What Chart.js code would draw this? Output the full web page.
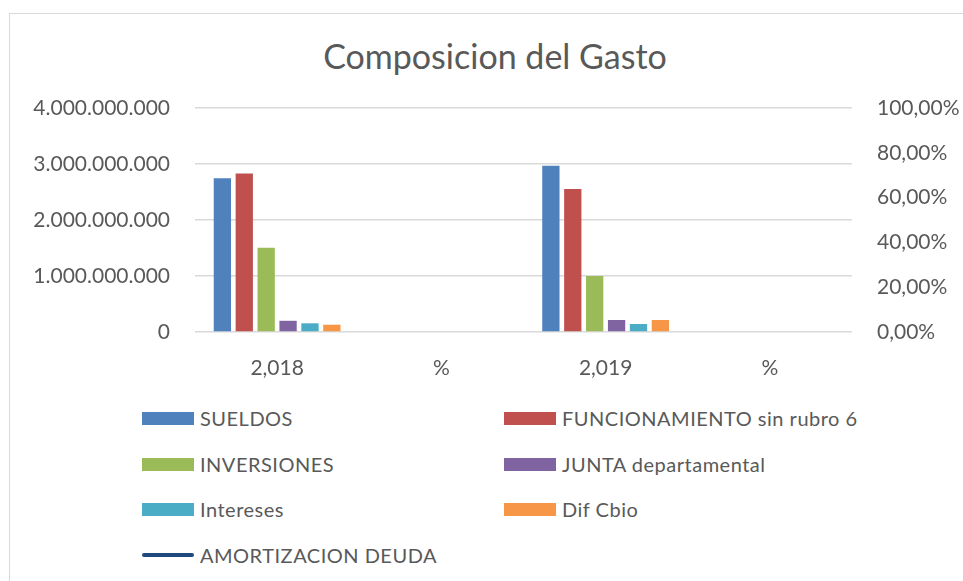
<!DOCTYPE html>
<html>
<head>
<meta charset="utf-8">
<script src="https://cdn.jsdelivr.net/npm/chart.js@4.4.1/dist/chart.umd.min.js"></script>
<style>
    html, body { margin: 0; padding: 0; background: #fff; }
    #wrap { position: relative; width: 963px; height: 581px; overflow: hidden; font-family: Lato, sans-serif; }
    #frame { position: absolute; left: 9px; top: 13px; width: 1000px; height: 700px; border-top: 1px solid #d9d9d9; border-left: 1px solid #d9d9d9; }
    #title { position: absolute; left: 295px; width: 400px; top: 36px; text-align: center; color: #595959; font-size: 34px; line-height: 40px; white-space: nowrap; }
    #box { position: absolute; left: 0; top: 0; width: 963px; height: 400px; }
    .item { position: absolute; color: #595959; font-size: 20px; letter-spacing: 0.5px; line-height: 20px; white-space: nowrap; }
    .sw { position: absolute; width: 52px; height: 13px; }
    .sw.line { height: 4px; border-radius: 2px; }
</style>
</head>
<body>
<div id="wrap">
    <div id="frame"></div>
    <div id="title">Composicion del Gasto</div>
    <div id="box"><canvas id="gasto"></canvas></div>
    <div id="legend"></div>
</div>
<script>
const categories = ['2,018', '%', '2,019', '%'];
const sueldos = [2745000000, null, 2970000000, null];
const funcionamiento = [2830000000, null, 2555000000, null];
const inversiones = [1505000000, null, 1000000000, null];
const junta = [200000000, null, 214000000, null];
const intereses = [155000000, null, 143000000, null];
const difCbio = [130000000, null, 214000000, null];
const amortizacion = [null, null, null, null];

const leftTicks = [0, 1000000000, 2000000000, 3000000000, 4000000000];
const rightTicks = [0, 0.2, 0.4, 0.6, 0.8, 1];

const textColor = '#595959';
const gridColor = '#d9d9d9';

function formatMiles(v) {
    return String(Math.round(v)).replace(/\B(?=(\d{3})+(?!\d))/g, '.');
}
function formatPct(v) {
    return (v * 100).toFixed(2).replace('.', ',') + '%';
}

const series = [
    { label: 'SUELDOS', data: sueldos, color: '#4f81bd' },
    { label: 'FUNCIONAMIENTO sin rubro 6', data: funcionamiento, color: '#c0504d' },
    { label: 'INVERSIONES', data: inversiones, color: '#9bbb59' },
    { label: 'JUNTA departamental', data: junta, color: '#8064a2' },
    { label: 'Intereses', data: intereses, color: '#4bacc6' },
    { label: 'Dif Cbio', data: difCbio, color: '#f79646' },
];

const datasets = series.map(s => ({
    type: 'bar',
    label: s.label,
    data: s.data,
    backgroundColor: s.color,
    borderWidth: 0,
    yAxisID: 'y',
    categoryPercentage: 0.8,
    barPercentage: 0.79,
}));
datasets.push({
    type: 'line',
    label: 'AMORTIZACION DEUDA',
    data: amortizacion,
    borderColor: '#1f497d',
    backgroundColor: '#1f497d',
    borderWidth: 4,
    pointRadius: 0,
    yAxisID: 'y1',
});

// legend in two columns, like the original
const legend = document.getElementById('legend');
const rows = [418, 464, 509, 555];
const cols = [142, 504];
datasets.forEach((d, i) => {
    const sw = document.createElement('div');
    sw.className = 'sw' + (d.type === 'line' ? ' line' : '');
    sw.style.background = d.backgroundColor;
    const x = cols[i % 2], y = rows[Math.floor(i / 2)];
    sw.style.left = x + 'px';
    sw.style.top = (y - (d.type === 'line' ? 2 : 6.5)) + 'px';
    const t = document.createElement('div');
    t.className = 'item';
    t.textContent = d.label;
    t.style.left = (x + 58) + 'px';
    t.style.top = (y - 10) + 'px';
    legend.appendChild(sw);
    legend.appendChild(t);
});

const ctx = document.getElementById('gasto').getContext('2d');
new Chart(ctx, {
    data: {
        labels: categories,
        datasets: datasets
    },
    options: {
        responsive: true,
        maintainAspectRatio: false,
        animation: false,
        layout: { padding: { left: 0, right: 0, top: 108, bottom: 0 } },
        plugins: {
            legend: { display: false },
            tooltip: { enabled: false },
        },
        scales: {
            x: {
                grid: { display: false },
                border: { display: false },
                ticks: {
                    color: textColor,
                    font: { family: 'Lato', size: 21 },
                    padding: 16,
                },
                afterFit: (scale) => { scale.height = 68; },
            },
            y: {
                position: 'left',
                min: 0,
                max: 4000000000,
                afterBuildTicks: (scale) => { scale.ticks = leftTicks.map(v => ({ value: v })); },
                grid: { color: gridColor, lineWidth: 1.5, drawTicks: false },
                border: { display: false },
                ticks: {
                    color: textColor,
                    font: { family: 'Lato', size: 21 },
                    padding: 25,
                    callback: (v) => formatMiles(v),
                },
                afterFit: (scale) => { scale.width = 195; },
            },
            y1: {
                position: 'right',
                min: 0,
                max: 1,
                afterBuildTicks: (scale) => { scale.ticks = rightTicks.map(v => ({ value: v })); },
                grid: { display: false, drawTicks: false },
                border: { display: false },
                ticks: {
                    color: textColor,
                    font: { family: 'Lato', size: 21 },
                    padding: 25,
                    callback: (v) => formatPct(v),
                },
                afterFit: (scale) => { scale.width = 111; },
            },
        }
    }
});
</script>
</body>
</html>
